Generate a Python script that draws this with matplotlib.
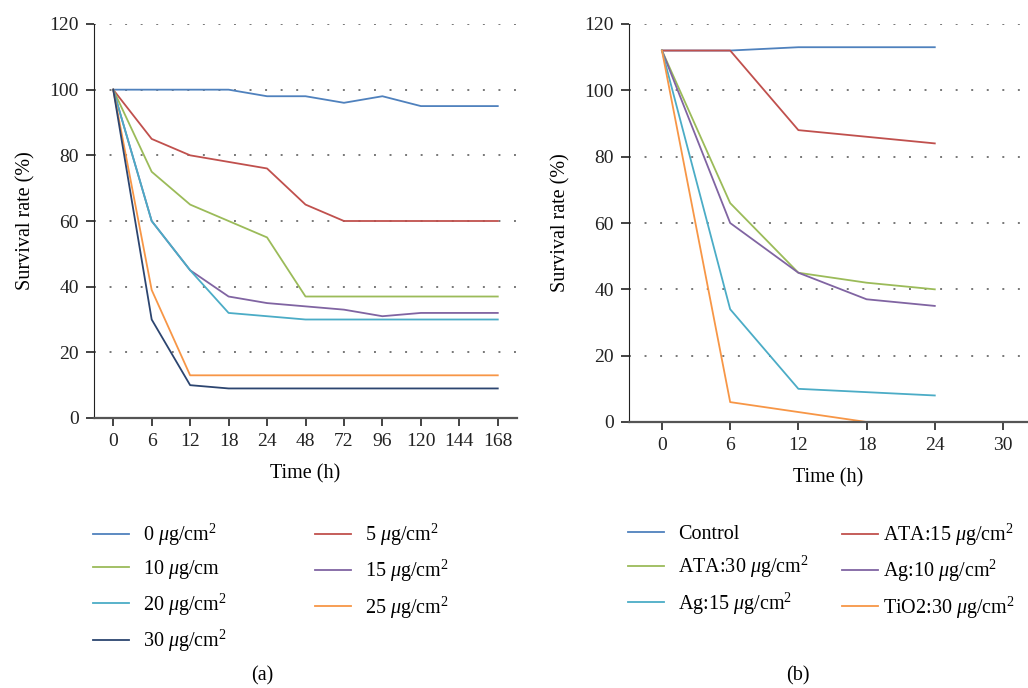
import matplotlib
matplotlib.use('Agg')
import matplotlib.pyplot as plt
import numpy as np

plt.rcParams['font.family'] = ['Liberation Serif', 'DejaVu Serif']
plt.rcParams['mathtext.fontset'] = 'custom'
plt.rcParams['mathtext.rm'] = 'Liberation Serif'
plt.rcParams['mathtext.it'] = 'Liberation Serif:italic'
plt.rcParams['font.size'] = 14

# panel (a): survival over time for each dose
times_a = ['0', '6', '12', '18', '24', '48', '72', '96', '120', '144', '168']
dose_0 = [100, 100, 100, 100, 98, 98, 96, 98, 95, 95, 95]
dose_5 = [100, 85, 80, 78, 76, 65, 60, 60, 60, 60, 60]
dose_10 = [100, 75, 65, 60, 55, 37, 37, 37, 37, 37, 37]
dose_15 = [100, 60, 45, 37, 35, 34, 33, 31, 32, 32, 32]
dose_20 = [100, 60, 45, 32, 31, 30, 30, 30, 30, 30, 30]
dose_25 = [100, 39, 13, 13, 13, 13, 13, 13, 13, 13, 13]
dose_30 = [100, 30, 10, 9, 9, 9, 9, 9, 9, 9, 9]

# panel (b): treatments compared
times_b = [0, 6, 12, 18, 24]
control = [112, 112, 113, 113, 113]
ata_15 = [112, 112, 88, 86, 84]
ata_30 = [112, 66, 45, 42, 40]
ag_10 = [112, 60, 45, 37, 35]
ag_15 = [112, 34, 10, 9, 8]
tio2_30 = [112, 6, 3, 0, 0]

blue = '#4f81bd'
red = '#c0504d'
green = '#9bbb59'
purple = '#8064a2'
aqua = '#4bacc6'
orange = '#f79646'
navy = '#2c4570'

unit = r'$\mu$g/cm$^2$'

fig = plt.figure(figsize=(10.28, 6.88), dpi=100)
ax1 = fig.add_axes([94/1028, 1 - 418/688, 423/1028, 394/688])
ax2 = fig.add_axes([629/1028, 1 - 422/688, 399/1028, 398/688])


def style_axes(ax):
    ax.set_ylim(0, 120)
    ax.set_yticks(np.arange(0, 121, 20))
    for s in ['top', 'right']:
        ax.spines[s].set_visible(False)
    ax.spines['left'].set_color('#222222')
    ax.spines['bottom'].set_color('#555555')
    ax.spines['bottom'].set_linewidth(1.6)
    ax.tick_params(length=6, width=1.2, colors='#222222', labelsize=14, pad=5)
    for y in range(20, 121, 20):
        ax.axhline(y, color='#777777', linestyle=(0, (1, 7)), linewidth=1.4, zorder=0)
    ax.set_ylabel('Survival rate (%)', fontsize=14.5, labelpad=10)
    ax.set_xlabel('Time (h)', fontsize=14.5, labelpad=10)


def legend_column(handles, x_px, y_px, pad=0.7):
    leg = fig.legend(handles=handles, loc='upper left',
                     bbox_to_anchor=(x_px/1028, 1 - y_px/688), frameon=False,
                     fontsize=14.5, handlelength=1.8, handletextpad=pad,
                     labelspacing=0.5, borderpad=0, borderaxespad=0)
    return leg


# panel (a)
x = np.arange(len(times_a))
series_a = [(dose_0, blue, '0 ' + unit), (dose_5, red, '5 ' + unit),
            (dose_10, green, r'10 $\mu$g/cm'), (dose_15, purple, '15 ' + unit),
            (dose_20, aqua, '20 ' + unit), (dose_25, orange, '25 ' + unit),
            (dose_30, navy, '30 ' + unit)]
la = [ax1.plot(x, v, color=c, linewidth=1.3, label=l)[0] for v, c, l in series_a]
ax1.set_xticks(x)
ax1.set_xticklabels(times_a)
ax1.set_xlim(-0.5, 10.5)
style_axes(ax1)

# panel (b)
series_b = [(control, blue, 'Control'), (ata_15, red, 'ATA:15 ' + unit),
            (ata_30, green, 'ATA:30 ' + unit), (ag_10, purple, 'Ag:10 ' + unit),
            (ag_15, aqua, 'Ag:15 ' + unit), (tio2_30, orange, 'TiO2:30 ' + unit)]
lb = [ax2.plot(times_b, v, color=c, linewidth=1.3, label=l)[0] for v, c, l in series_b]
ax2.set_xticks([0, 6, 12, 18, 24, 30])
ax2.set_xlim(-2.9, 32.2)
style_axes(ax2)

legend_column(la[0::2], 93, 522)
legend_column(la[1::2], 315, 522)
legend_column(lb[0::2], 628, 525)
legend_column(lb[1::2], 842, 522, pad=0.25)

fig.text(262/1028, 1 - 676/688, '(a)', ha='center', va='center', fontsize=14.5)
fig.text(798/1028, 1 - 676/688, '(b)', ha='center', va='center', fontsize=14.5)

fig.savefig('out.png', dpi=100)
